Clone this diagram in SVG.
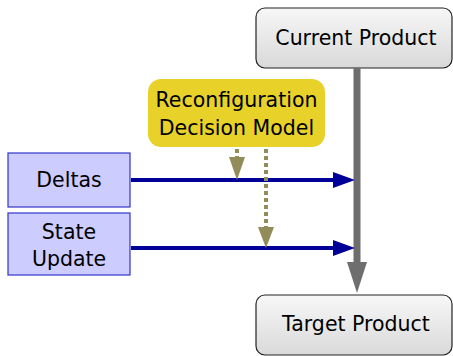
<svg xmlns="http://www.w3.org/2000/svg" width="453" height="356" viewBox="0 0 453 356">
<style>
text{font-family:"DejaVu Sans","Liberation Sans",sans-serif;font-size:20.5px;fill:#000;text-anchor:middle;dominant-baseline:central}
.prod{fill:url(#g);stroke:#222;stroke-width:1.2}
.inp{fill:#ccccff;stroke:#3333cc;stroke-width:1.2}
.blue{stroke:#000099;stroke-width:4;fill:none}
.dash{stroke:#928c5a;stroke-width:4;stroke-dasharray:4 3;fill:none}
</style>
<defs>
<linearGradient id="g" x1="0" y1="0" x2="0" y2="1"><stop offset="0" stop-color="#f7f7f7"/><stop offset="1" stop-color="#d9d9d9"/></linearGradient>
</defs>
<g id="current"><rect class="prod" x="256" y="8" width="196" height="60" rx="9"/><text x="356" y="38">Current Product</text></g>
<g id="target"><rect class="prod" x="256" y="295" width="196" height="60" rx="9"/><text x="356" y="324">Target Product</text></g>
<g id="decision"><rect x="148" y="79" width="177" height="68" rx="13" fill="#e8d22a"/><text x="236.5" y="100">Reconfiguration</text><text x="236.5" y="128">Decision Model</text></g>
<g id="deltas"><rect class="inp" x="8" y="153" width="122" height="54"/><text x="69" y="180">Deltas</text></g>
<g id="state"><rect class="inp" x="8" y="213" width="122" height="62"/><text x="69" y="232">State</text><text x="69" y="259">Update</text></g>
<g id="connectors">
<line x1="357" y1="68" x2="357" y2="263" stroke="#6e6e6e" stroke-width="7"/>
<polygon points="347,262 367,262 357,293" fill="#6e6e6e"/>
<line class="blue" x1="131" y1="180" x2="336" y2="180"/>
<polygon points="333,172 355,180 333,188" fill="#000099"/>
<line class="blue" x1="131" y1="248" x2="336" y2="248"/>
<polygon points="333,240 355,248 333,256" fill="#000099"/>
<line class="dash" x1="237" y1="149" x2="237" y2="158"/>
<polygon points="229,157 245,157 237,180" fill="#928c5a"/>
<line class="dash" x1="266" y1="149" x2="266" y2="228"/>
<polygon points="258,227 274,227 266,248" fill="#928c5a"/>
</g>
</svg>
